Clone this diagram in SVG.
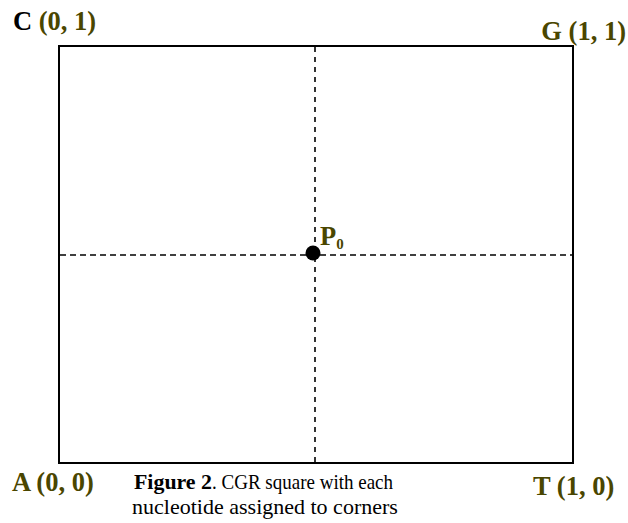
<svg xmlns="http://www.w3.org/2000/svg" width="628" height="523" viewBox="0 0 628 523">
<style>
.lbl{font-family:"Liberation Serif",serif;font-weight:bold;font-size:26.5px;fill:#4a4600}
.cap{font-family:"Liberation Serif",serif;font-size:22px;fill:#000}
.dash{stroke:#000;stroke-width:1.6;fill:none}
</style>
<rect width="628" height="523" fill="#fff"/>
<g id="square">
<rect x="59" y="46" width="514" height="417" fill="none" stroke="#000" stroke-width="2"/>
</g>
<g id="connectors">
<line class="dash" x1="315" y1="47" x2="315" y2="462" stroke-dasharray="5,5"/>
<line class="dash" x1="60" y1="255" x2="572" y2="255" stroke-dasharray="6,4"/>
</g>
<g id="p0">
<circle cx="313" cy="253" r="7.5" fill="#000"/>
<text class="lbl" x="320" y="245" font-size="22">P<tspan font-size="15" dy="4">0</tspan></text>
</g>
<g id="corner-C"><text class="lbl" x="13" y="30"><tspan fill="#000">C</tspan> (0, 1)</text></g>
<g id="corner-G"><text class="lbl" x="626" y="40" text-anchor="end">G (1, 1)</text></g>
<g id="corner-A"><text class="lbl" x="12" y="491">A (0, 0)</text></g>
<g id="corner-T"><text class="lbl" x="533" y="495">T (1, 0)</text></g>
<g id="caption">
<text class="cap" x="134" y="489" font-size="21" font-weight="bold" textLength="78" lengthAdjust="spacingAndGlyphs">Figure 2</text>
<text class="cap" x="212" y="489" font-size="21" textLength="181" lengthAdjust="spacingAndGlyphs">. CGR square with each</text>
<text class="cap" x="265" y="514" text-anchor="middle">nucleotide assigned to corners</text>
</g>
</svg>
